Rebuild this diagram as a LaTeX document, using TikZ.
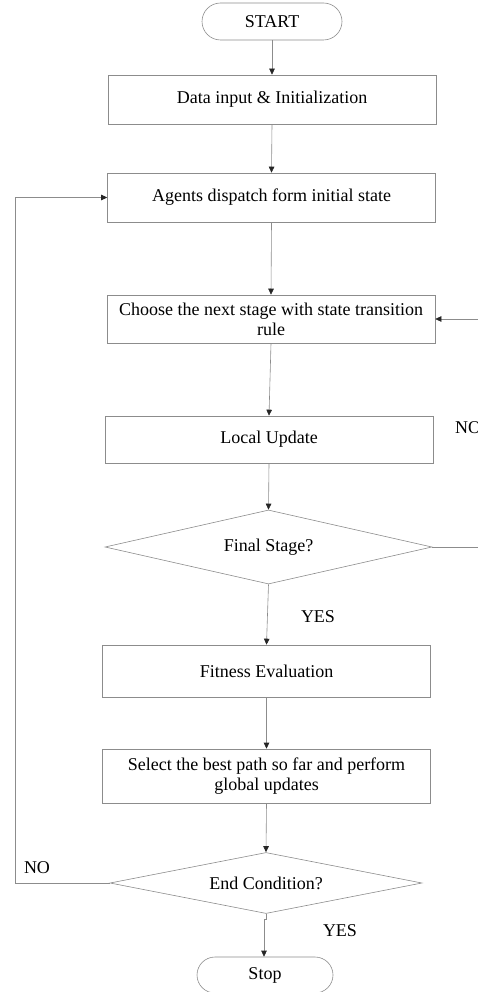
\documentclass[tikz,border=0pt]{standalone}
\usepackage{fontspec}
\setmainfont{Liberation Serif}
\usetikzlibrary{arrows.meta,shapes.geometric,shapes.misc}
\begin{document}
\begin{tikzpicture}[x=1pt,y=-1pt,
  font=\fontsize{18}{20}\selectfont,
  line/.style={draw=black!45,line width=0.6pt},
  arr/.style={line,-{Triangle[length=6pt,width=5.5pt,color=black!85]}},
  procbox/.style={line,rectangle,minimum width=328pt,inner sep=2pt,align=center},
  decision/.style={line,diamond,aspect=5,inner sep=0pt},
  terminal/.style={line,rounded rectangle,inner sep=0pt},
  lbl/.style={inner sep=0pt}]
\useasboundingbox (0,0) rectangle (478,992);
\clip (0,0) rectangle (478,992);
\node[terminal,minimum width=140pt,minimum height=37pt] (start) at (272,21.5) {START};
\node[procbox,minimum height=49pt] (data) at (272,99.5) {Data input \& Initialization};
\node[procbox,minimum height=49pt] (agents) at (271.5,197.5) {Agents dispatch form initial state};
\node[procbox,minimum height=48pt] (choose) at (271,319) {Choose the next stage with state transition\\rule};
\node[procbox,minimum height=47pt] (local) at (269,439.5) {Local Update};
\node[decision,minimum width=327pt,minimum height=74pt] (final) at (268.5,547) {Final Stage?};
\node[procbox,minimum height=52pt] (fit) at (266.5,671) {Fitness Evaluation};
\node[procbox,minimum height=54pt] (select) at (266.5,776) {Select the best path so far and perform\\global updates};
\node[decision,minimum width=312pt,minimum height=61pt] (endc) at (266,883) {End Condition?};
\node[terminal,minimum width=136pt,minimum height=36pt] (stop) at (265,975) {Stop};

\node[lbl] (yes1) at (318,617) {YES};
\node[lbl] (yes2) at (340,931) {YES};
\node[lbl] (no1) at (37,868) {NO};
\node[lbl,anchor=west] (no2) at (455,428) {NO};

\coordinate (lft) at (15,883);
\coordinate (rgt) at (500,547);

\draw[arr] (start.south) -- (data.north);
\draw[arr] (data.south) -- (agents.north);
\draw[arr] (agents.south) -- (choose.north);
\draw[arr] (choose.south) -- (local.north);
\draw[arr] (local.south) -- (final.north);
\draw[arr] (final.south) -- (fit.north);
\draw[arr] (fit.south) -- (select.north);
\draw[arr] (select.south) -- (endc.north);
\draw[arr] (endc.south) -- ++(0,5) -| ([xshift=-1pt]stop.north);
\draw[arr] (endc.west) -- (lft) |- (agents.west);
\draw[arr] (final.east) -- (rgt) |- (choose.east);
\end{tikzpicture}
\end{document}
